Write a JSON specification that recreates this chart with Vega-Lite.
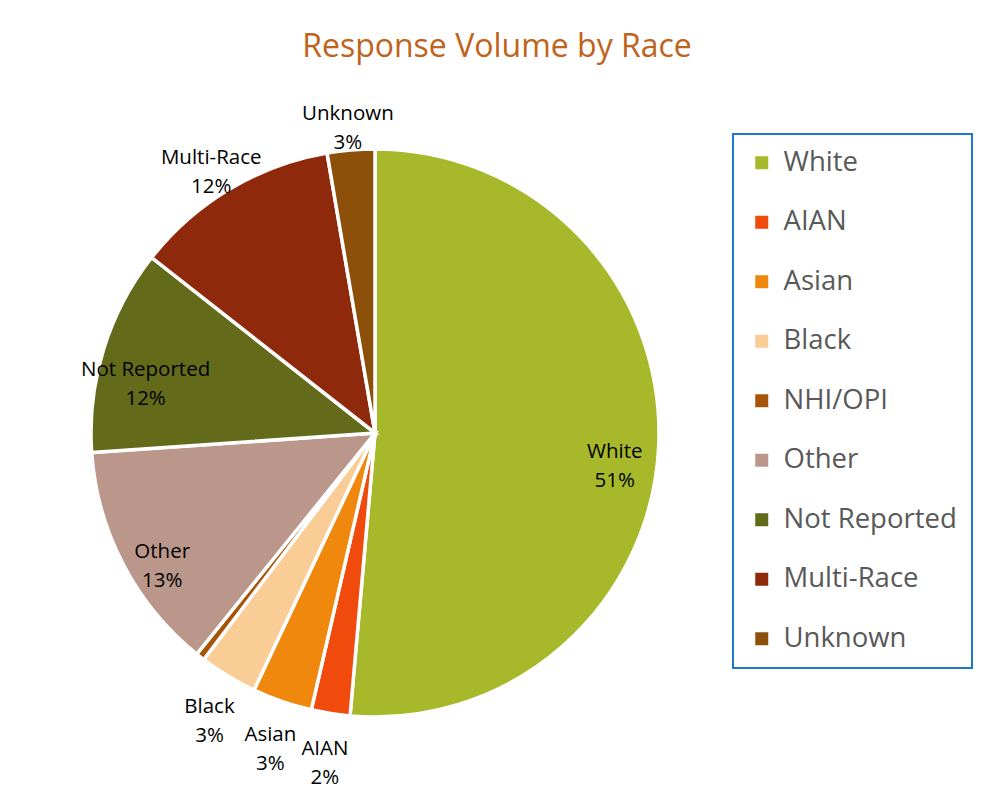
{
  "$schema": "https://vega.github.io/schema/vega-lite/v6.json",
  "width": 568,
  "height": 568,
  "autosize": {"type": "none"},
  "padding": {"left": 91, "top": 149, "right": 323, "bottom": 76},
  "background": "white",
  "title": {
    "text": "Response Volume by Race",
    "color": "#C0631C",
    "font": "Open Sans",
    "fontSize": 32,
    "fontWeight": "normal",
    "anchor": "middle",
    "dx": 122,
    "offset": 40
  },
  "data": {
    "values": [
      {"race": "White", "value": 51.4, "rank": 1},
      {"race": "AIAN", "value": 2.2, "rank": 2},
      {"race": "Asian", "value": 3.4, "rank": 3},
      {"race": "Black", "value": 3.3, "rank": 4},
      {"race": "NHI/OPI", "value": 0.5, "rank": 5},
      {"race": "Other", "value": 13.1, "rank": 6},
      {"race": "Not Reported", "value": 11.7, "rank": 7},
      {"race": "Multi-Race", "value": 11.7, "rank": 8},
      {"race": "Unknown", "value": 2.7, "rank": 9}
    ]
  },
  "transform": [
    {"calculate": "(datum.race == 'White' || datum.race == 'Other' || datum.race == 'Not Reported') ? datum.race + '\\n' + format(datum.value / 100, '.0%') : ''", "as": "inLabel"},
    {"calculate": "(datum.race == 'AIAN' || datum.race == 'Asian' || datum.race == 'Black' || datum.race == 'Multi-Race' || datum.race == 'Unknown') ? datum.race + '\\n' + format(datum.value / 100, '.0%') : ''", "as": "outLabel"}
  ],
  "encoding": {
    "theta": {"field": "value", "type": "quantitative", "stack": true},
    "order": {"field": "rank", "type": "quantitative"}
  },
  "layer": [
    {
      "mark": {"type": "arc", "outerRadius": 284, "stroke": "white", "strokeWidth": 3.5},
      "encoding": {
        "color": {
          "field": "race",
          "type": "nominal",
          "sort": ["White", "AIAN", "Asian", "Black", "NHI/OPI", "Other", "Not Reported", "Multi-Race", "Unknown"],
          "scale": {
            "domain": ["White", "AIAN", "Asian", "Black", "NHI/OPI", "Other", "Not Reported", "Multi-Race", "Unknown"],
            "range": ["#A7B92B", "#F04A0C", "#EF880C", "#FACD96", "#A65407", "#BA978A", "#636B1B", "#8E2A0B", "#8C500A"]
          },
          "legend": {
            "title": null,
            "orient": "none",
            "legendX": 642,
            "legendY": -15,
            "symbolType": "square",
            "symbolSize": 169,
            "symbolStrokeWidth": 0,
            "symbolOffset": 0,
            "labelFont": "Open Sans",
            "labelFontSize": 27.5,
            "labelColor": "#595959",
            "labelOffset": 8,
            "labelLimit": 300,
            "rowPadding": 30.5,
            "padding": 15
          }
        }
      }
    },
    {
      "mark": {"type": "text", "radius": 240, "font": "Open Sans", "fontSize": 20.5, "lineBreak": "\n", "lineHeight": 29, "baseline": "middle", "align": "center", "dy": 8},
      "encoding": {
        "detail": {"field": "race", "type": "nominal"},
        "text": {"field": "inLabel", "type": "nominal"},
        "color": {"value": "#000000"}
      }
    },
    {
      "mark": {"type": "text", "radius": 320, "font": "Open Sans", "fontSize": 20.5, "lineBreak": "\n", "lineHeight": 29, "baseline": "middle", "align": "center"},
      "encoding": {
        "detail": {"field": "race", "type": "nominal"},
        "text": {"field": "outLabel", "type": "nominal"},
        "color": {"value": "#000000"}
      }
    }
  ],
  "config": {
    "view": {"stroke": null},
    "legend": {"strokeColor": "#1F78C8", "strokeWidth": 2}
  }
}
